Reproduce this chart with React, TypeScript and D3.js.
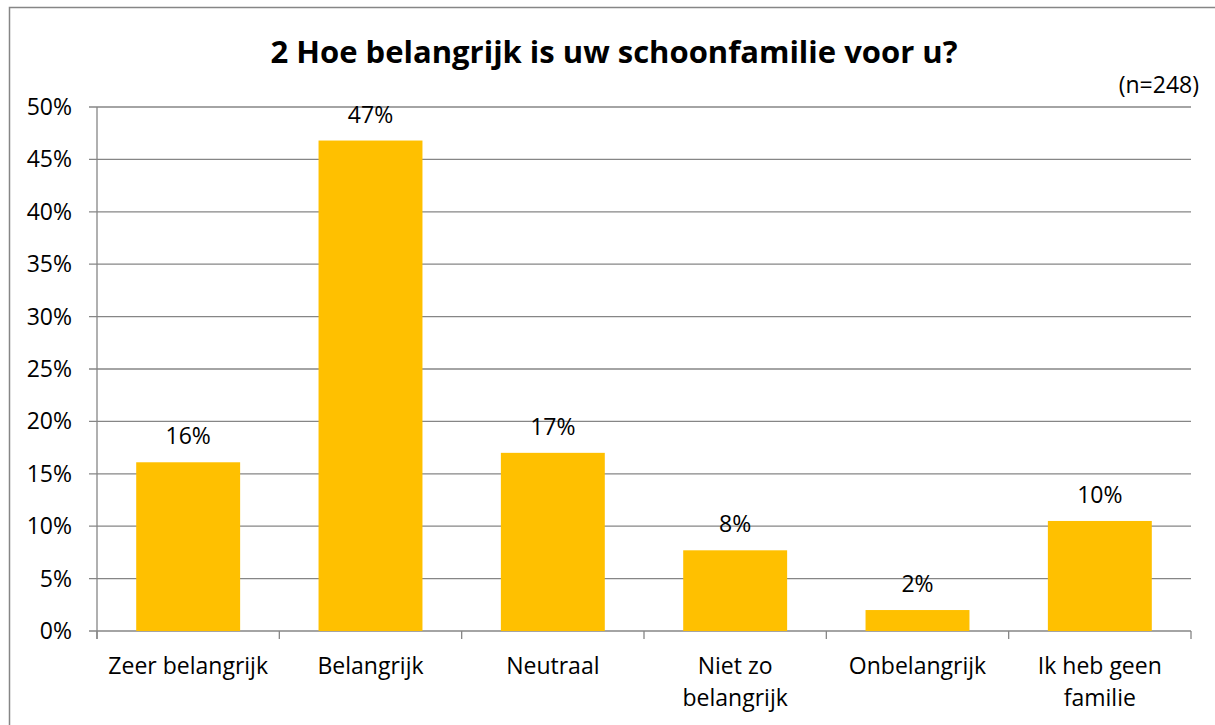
import React from "react";
import * as d3 from "d3";

const categories: string[][] = [
  ["Zeer belangrijk"],
  ["Belangrijk"],
  ["Neutraal"],
  ["Niet zo", "belangrijk"],
  ["Onbelangrijk"],
  ["Ik heb geen", "familie"],
];
const values: number[] = [16.1, 46.8, 17.0, 7.7, 2.0, 10.5];
const valueLabels: string[] = ["16%", "47%", "17%", "8%", "2%", "10%"];
const yTicks: number[] = [0, 5, 10, 15, 20, 25, 30, 35, 40, 45, 50];
const title = "2 Hoe belangrijk is uw schoonfamilie voor u?";
const subtitle = "(n=248)";

const W = 1215;
const H = 725;
const FONT = "'Open Sans', sans-serif";

export default function App() {
  const left = 97;
  const right = 1191;
  const top = 107;
  const bottom = 631;
  const x = d3
    .scaleBand<number>()
    .domain(d3.range(categories.length))
    .range([left, right])
    .paddingInner(0.43)
    .paddingOuter(0.215);
  const step = (right - left) / categories.length;
  const y = d3.scaleLinear().domain([0, 50]).range([bottom, top]);
  const grid = "#868686";
  const fs = 23;

  return (
    <svg
      width={W}
      height={H}
      style={{ position: "absolute", left: 0, top: 0, display: "block" }}
    >
      <rect x={0} y={0} width={W} height={H} fill="#fff" />
      <rect
        x={9.5}
        y={7.5}
        width={W + 20}
        height={H + 20}
        fill="none"
        stroke={grid}
        strokeWidth={1.5}
      />
      <text
        x={614}
        y={63}
        textAnchor="middle"
        fontFamily={FONT}
        fontWeight="bold"
        fontSize={31}
        fill="#000"
      >
        {title}
      </text>
      <text
        x={1199}
        y={93}
        textAnchor="end"
        fontFamily={FONT}
        fontSize={fs}
        fill="#000"
      >
        {subtitle}
      </text>
      {yTicks.map((t) => (
        <g key={t}>
          <line
            x1={left - 8}
            x2={right}
            y1={y(t)}
            y2={y(t)}
            stroke={grid}
            strokeWidth={1.3}
          />
          <text
            x={72}
            y={y(t)}
            dy="0.35em"
            textAnchor="end"
            fontFamily={FONT}
            fontSize={fs}
            fill="#000"
          >
            {t}%
          </text>
        </g>
      ))}
      <line x1={left} x2={left} y1={top} y2={bottom + 8} stroke={grid} strokeWidth={1.3} />
      {d3.range(categories.length + 1).map((i) => (
        <line
          key={i}
          x1={left + i * step}
          x2={left + i * step}
          y1={bottom}
          y2={bottom + 8}
          stroke={grid}
          strokeWidth={1.3}
        />
      ))}
      {values.map((v, i) => (
        <g key={i}>
          <rect
            x={x(i)!}
            y={y(v)}
            width={x.bandwidth()}
            height={y(0) - y(v)}
            fill="#FFC000"
          />
          <text
            x={x(i)! + x.bandwidth() / 2}
            y={y(v) - 18}
            textAnchor="middle"
            fontFamily={FONT}
            fontSize={fs}
            fill="#000"
          >
            {valueLabels[i]}
          </text>
          {categories[i].map((line, j) => (
            <text
              key={j}
              x={x(i)! + x.bandwidth() / 2}
              y={674 + j * 32}
              textAnchor="middle"
              fontFamily={FONT}
              fontSize={fs}
              fill="#000"
            >
              {line}
            </text>
          ))}
        </g>
      ))}
    </svg>
  );
}
